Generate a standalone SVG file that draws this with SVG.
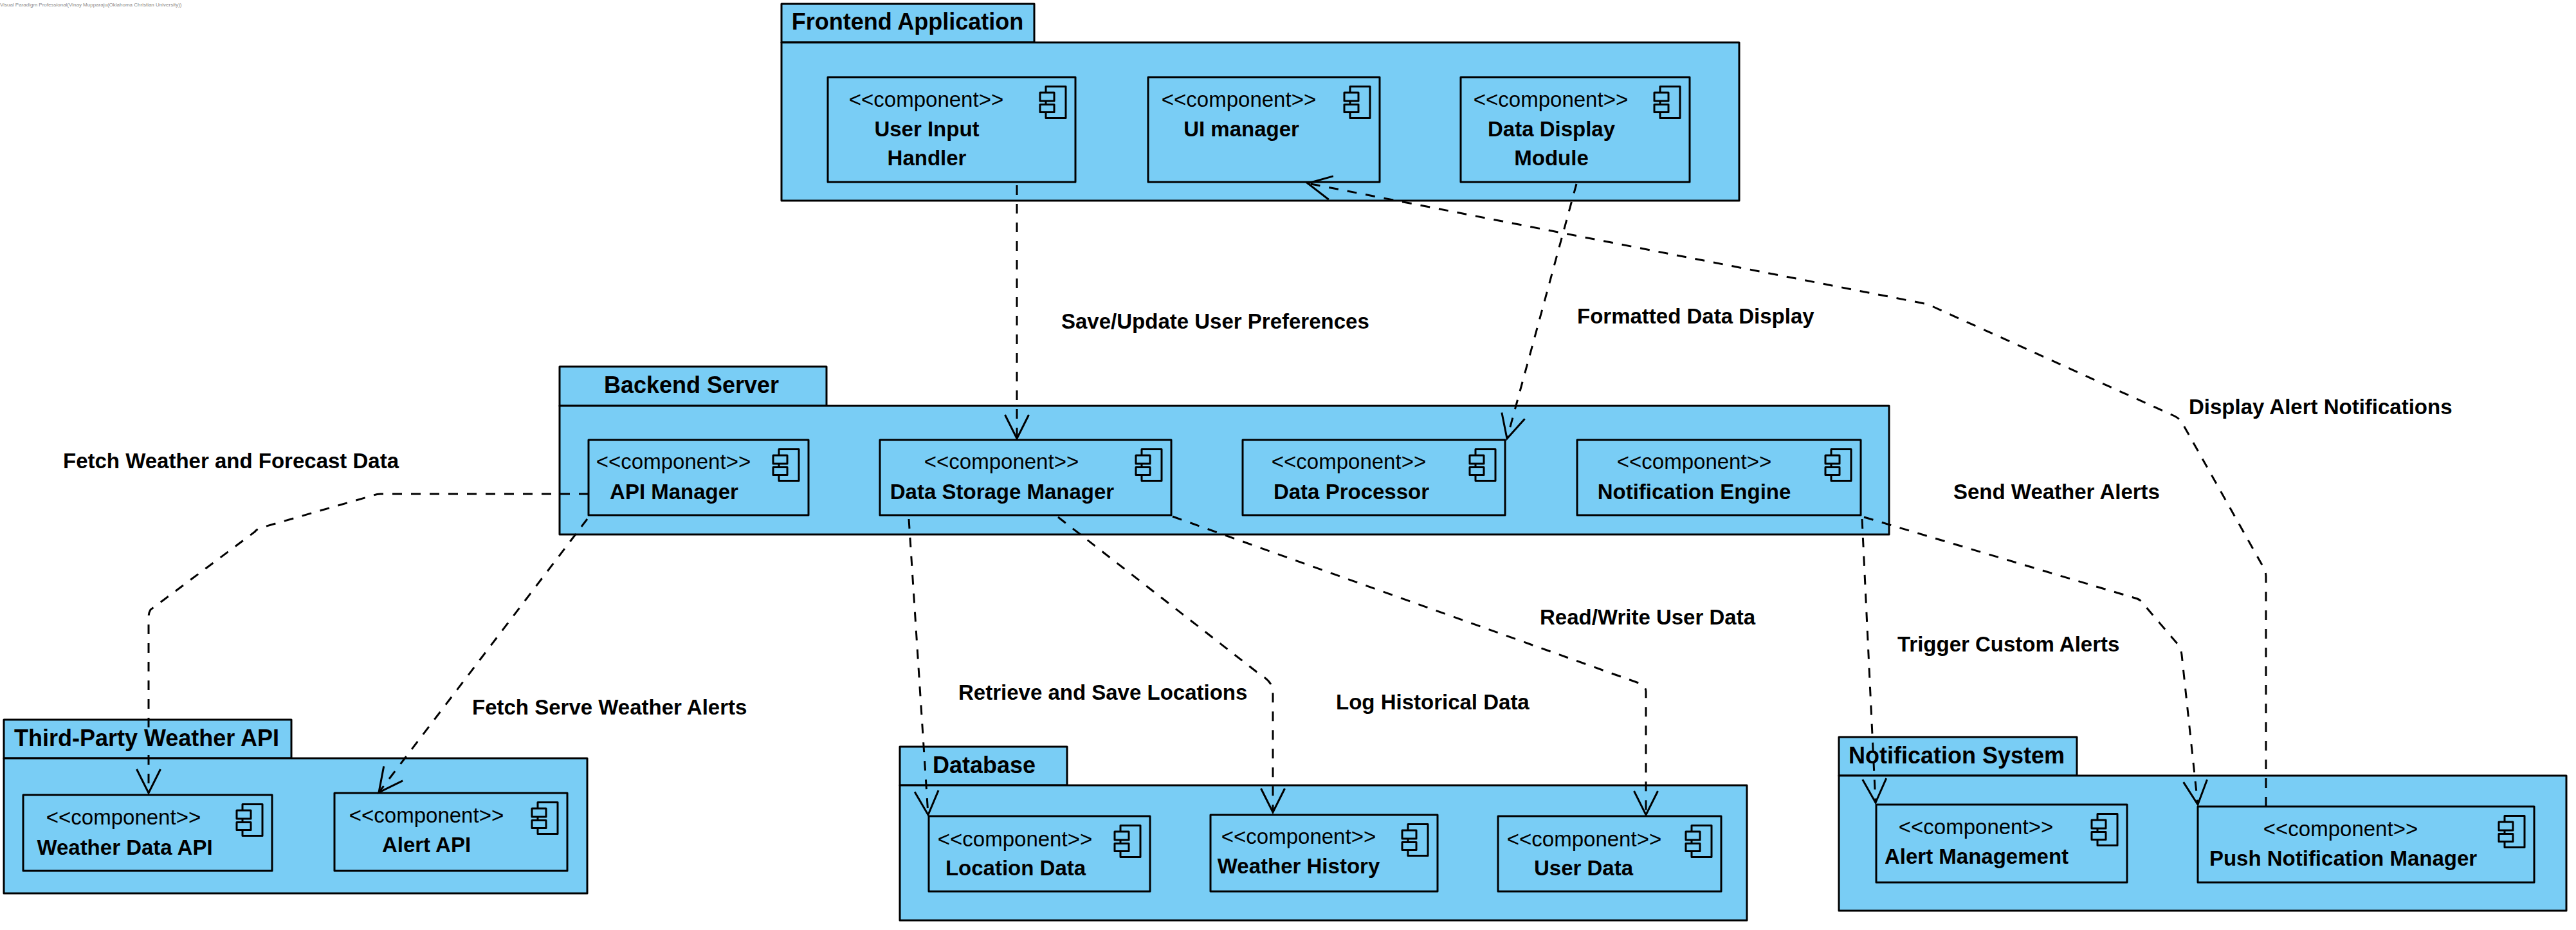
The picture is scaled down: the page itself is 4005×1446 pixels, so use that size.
<svg xmlns="http://www.w3.org/2000/svg" width="4005" height="1446" viewBox="0 0 4005 1446">
<style>
text{font-family:"Liberation Sans",Arial,sans-serif;fill:#000}
.pkg,.cmp,.ic{fill:#79cdf5;stroke:#000;stroke-width:3;stroke-linejoin:round}
.st{font-size:33px;text-anchor:middle}
.nm{font-size:33px;font-weight:bold;text-anchor:middle}
.tt{font-size:36px;font-weight:bold;text-anchor:middle}
.lb{font-size:33px;font-weight:bold}
.wm{font-size:8px;fill:#8a8a8a}
.dep{fill:none;stroke:#000;stroke-width:3;stroke-dasharray:15 14;marker-end:url(#open)}
</style>
<defs>
<marker id="open" markerUnits="userSpaceOnUse" markerWidth="44" markerHeight="44" refX="40" refY="22" orient="auto" overflow="visible">
<path d="M3 3.500L40 22L3 40.500" fill="none" stroke="#000" stroke-width="3"/>
</marker>
<g id="icon">
<rect class="ic" x="-46" y="14.500" width="31" height="49"/>
<rect class="ic" x="-55" y="24" width="22" height="13"/>
<rect class="ic" x="-55" y="42.500" width="22" height="12"/>
</g>
</defs>
<rect width="4005" height="1446" fill="#fff"/>
<text class="wm" x="0" y="10">Visual Paradigm Professional(Vinay Mupparaju(Oklahoma Christian University))</text>

<g id="frontend-application">
<rect class="pkg" x="1215" y="6" width="393" height="60"/>
<rect class="pkg" x="1215" y="66" width="1489" height="246"/>
<text class="tt" x="1411" y="45.500">Frontend Application</text>
<g id="user-input-handler"><rect class="cmp" x="1287" y="120" width="385" height="163"/><use href="#icon" x="1672" y="120"/><text class="st" x="1440" y="165.500">&lt;&lt;component&gt;&gt;</text><text class="nm" x="1441" y="211.500">User Input</text><text class="nm" x="1441" y="256.500">Handler</text></g>
<g id="ui-manager"><rect class="cmp" x="1785" y="120" width="360" height="163"/><use href="#icon" x="2145" y="120"/><text class="st" x="1926" y="165.500">&lt;&lt;component&gt;&gt;</text><text class="nm" x="1930" y="211.500">UI manager</text></g>
<g id="data-display-module"><rect class="cmp" x="2271" y="120" width="356" height="163"/><use href="#icon" x="2627" y="120"/><text class="st" x="2411" y="165.500">&lt;&lt;component&gt;&gt;</text><text class="nm" x="2412" y="211.500">Data Display</text><text class="nm" x="2412" y="256.500">Module</text></g>
</g>

<g id="backend-server">
<rect class="pkg" x="870" y="570" width="415" height="61"/>
<rect class="pkg" x="870" y="631" width="2067" height="200"/>
<text class="tt" x="1075" y="610.500">Backend Server</text>
<g id="api-manager"><rect class="cmp" x="915" y="684" width="342" height="117"/><use href="#icon" x="1257" y="684"/><text class="st" x="1047" y="728.500">&lt;&lt;component&gt;&gt;</text><text class="nm" x="1048" y="775.500">API Manager</text></g>
<g id="data-storage-manager"><rect class="cmp" x="1368" y="684" width="453" height="117"/><use href="#icon" x="1821" y="684"/><text class="st" x="1557" y="728.500">&lt;&lt;component&gt;&gt;</text><text class="nm" x="1558" y="775.500">Data Storage Manager</text></g>
<g id="data-processor"><rect class="cmp" x="1932" y="684" width="408" height="117"/><use href="#icon" x="2340" y="684"/><text class="st" x="2097" y="728.500">&lt;&lt;component&gt;&gt;</text><text class="nm" x="2101" y="775.500">Data Processor</text></g>
<g id="notification-engine"><rect class="cmp" x="2452" y="684" width="441" height="117"/><use href="#icon" x="2893" y="684"/><text class="st" x="2634" y="728.500">&lt;&lt;component&gt;&gt;</text><text class="nm" x="2634" y="775.500">Notification Engine</text></g>
</g>

<g id="third-party-weather-api">
<rect class="pkg" x="6" y="1119" width="447" height="60"/>
<rect class="pkg" x="6" y="1179" width="907" height="210"/>
<text class="tt" x="228" y="1159.500">Third-Party Weather API</text>
<g id="weather-data-api"><rect class="cmp" x="36" y="1236" width="387" height="118"/><use href="#icon" x="423" y="1236"/><text class="st" x="192" y="1281.500">&lt;&lt;component&gt;&gt;</text><text class="nm" x="194" y="1328.500">Weather Data API</text></g>
<g id="alert-api"><rect class="cmp" x="520" y="1233" width="362" height="121"/><use href="#icon" x="882" y="1233"/><text class="st" x="663" y="1278.500">&lt;&lt;component&gt;&gt;</text><text class="nm" x="663" y="1324.500">Alert API</text></g>
</g>

<g id="database">
<rect class="pkg" x="1399" y="1161" width="260" height="60"/>
<rect class="pkg" x="1399" y="1221" width="1317" height="210"/>
<text class="tt" x="1530" y="1201.500">Database</text>
<g id="location-data"><rect class="cmp" x="1444" y="1269" width="344" height="117"/><use href="#icon" x="1788" y="1269"/><text class="st" x="1578" y="1315.500">&lt;&lt;component&gt;&gt;</text><text class="nm" x="1579" y="1360.500">Location Data</text></g>
<g id="weather-history"><rect class="cmp" x="1882" y="1267" width="353" height="119"/><use href="#icon" x="2235" y="1267"/><text class="st" x="2019" y="1311.500">&lt;&lt;component&gt;&gt;</text><text class="nm" x="2019" y="1357.500">Weather History</text></g>
<g id="user-data"><rect class="cmp" x="2329" y="1269" width="347" height="117"/><use href="#icon" x="2676" y="1269"/><text class="st" x="2463" y="1315.500">&lt;&lt;component&gt;&gt;</text><text class="nm" x="2462" y="1360.500">User Data</text></g>
</g>

<g id="notification-system">
<rect class="pkg" x="2859" y="1146" width="370" height="60"/>
<rect class="pkg" x="2859" y="1206" width="1131" height="210"/>
<text class="tt" x="3042" y="1186.500">Notification System</text>
<g id="alert-management"><rect class="cmp" x="2917" y="1251" width="390" height="121"/><use href="#icon" x="3307" y="1251"/><text class="st" x="3072" y="1296.500">&lt;&lt;component&gt;&gt;</text><text class="nm" x="3073" y="1342.500">Alert Management</text></g>
<g id="push-notification-manager"><rect class="cmp" x="3417" y="1254" width="523" height="118"/><use href="#icon" x="3940" y="1254"/><text class="st" x="3639" y="1299.500">&lt;&lt;component&gt;&gt;</text><text class="nm" x="3643" y="1345.500">Push Notification Manager</text></g>
</g>

<g id="connectors">
<path class="dep" d="M1581 288V682"/>
<path class="dep" d="M2451 286L2343 682"/>
<path class="dep" d="M3523 1254V897Q3523 889 3519 882L3393 658Q3389 651 3381 647L3008 478Q3000 474 2992 472L2033 285"/>
<path class="dep" d="M915 768H592Q586 768 581 770L404 821Q399 823 396 827L234 948Q231 953 231 960V1233"/>
<path class="dep" d="M913 807L589 1232"/>
<path class="dep" d="M1413 807L1443 1267"/>
<path class="dep" d="M1645 804L1958 1048Q1979 1060 1979 1075V1263"/>
<path class="dep" d="M1823 803L2545 1061Q2559 1066 2559 1075V1267"/>
<path class="dep" d="M2895 807L2916 1248"/>
<path class="dep" d="M2898 804L3323 931Q3330 934 3334 941L3387 1003Q3391 1010 3392 1018L3417 1251"/>
</g>

<g id="labels">
<text class="lb" x="1650" y="510.500">Save/Update User Preferences</text>
<text class="lb" x="2452" y="502.500">Formatted Data Display</text>
<text class="lb" x="3403" y="643.500">Display Alert Notifications</text>
<text class="lb" x="98" y="727.500">Fetch Weather and Forecast Data</text>
<text class="lb" x="3037" y="775.500">Send Weather Alerts</text>
<text class="lb" x="2394" y="970.500">Read/Write User Data</text>
<text class="lb" x="2950" y="1012.500">Trigger Custom Alerts</text>
<text class="lb" x="1490" y="1087.500">Retrieve and Save Locations</text>
<text class="lb" x="2077" y="1102.500">Log Historical Data</text>
<text class="lb" x="734" y="1110.500">Fetch Serve Weather Alerts</text>
</g>
</svg>
